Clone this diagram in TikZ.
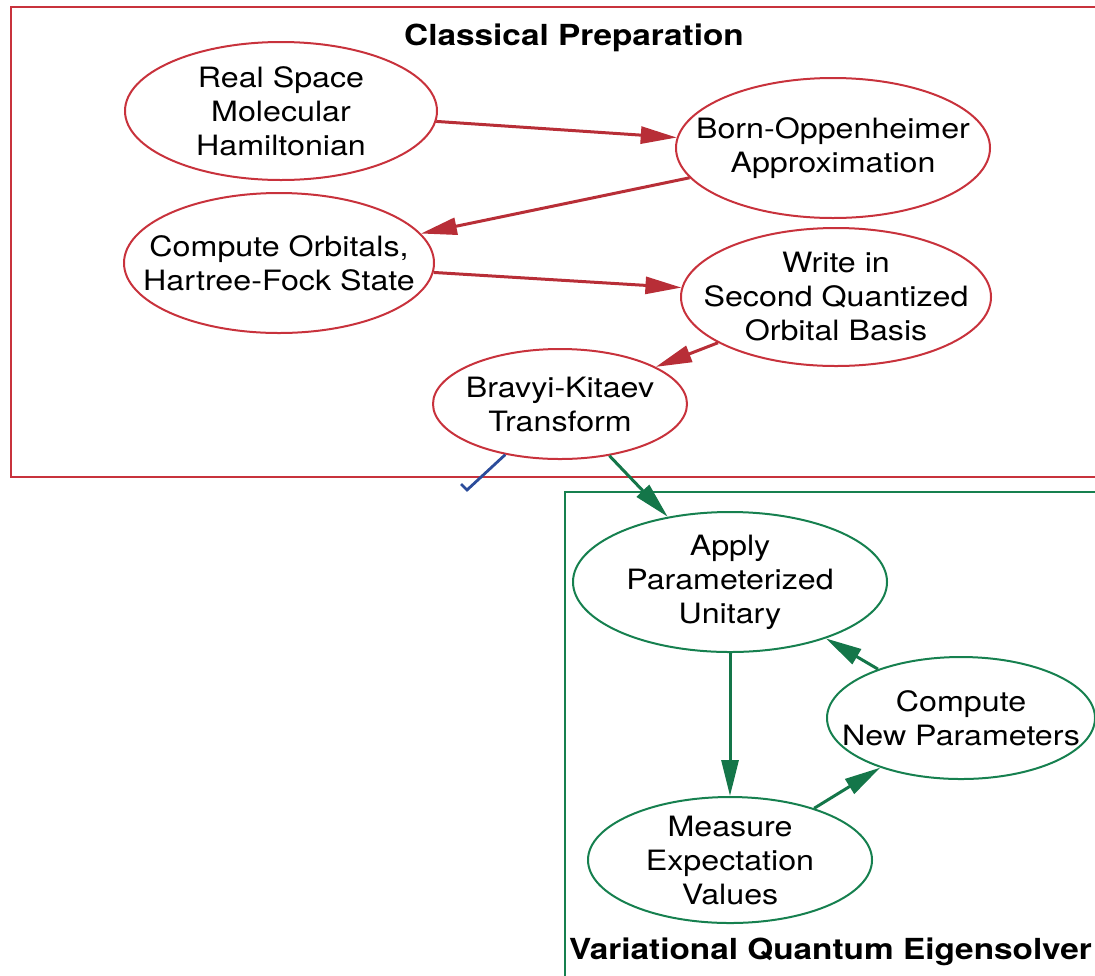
\documentclass[tikz,border=0pt]{standalone}
\usepackage{fontspec}
\setsansfont{TeX Gyre Heros}[FakeStretch=1.15]
\usetikzlibrary{shapes.geometric, arrows.meta}
\definecolor{prepred}{HTML}{C8323C}
\definecolor{vqegreen}{HTML}{16804F}
\definecolor{cutblue}{HTML}{2B4C9B}

\begin{document}
\begin{tikzpicture}[x=0.5pt, y=-0.5pt, font=\sffamily\fontsize{14}{17}\selectfont,
    redstep/.style={ellipse, draw=prepred, line width=1pt, align=center, inner sep=-60pt},
    greenstep/.style={ellipse, draw=vqegreen, line width=1pt, align=center, inner sep=-60pt},
    redarrow/.style={draw=prepred!92!black, line width=1.5pt, -{Triangle[length=18pt, width=8.5pt]}},
    greenarrow/.style={draw=vqegreen!92!black, line width=1.5pt, -{Triangle[length=18pt, width=8.5pt]}},
    boxtitle/.style={font=\sffamily\bfseries\fontsize{14.5}{17}\selectfont}]
    % pixel grid of the reference, y pointing down

    \path[use as bounding box] (0,0) rectangle (1095,975);
    \clip (0,0) rectangle (1095,975);

    % --- the two frames (cut off at the right and bottom) ---
    \draw[prepred, line width=1pt] (11,7) rectangle (1120,477);
    \draw[vqegreen, line width=1pt] (565,492) rectangle (1120,1000);
    \node[boxtitle] (preptitle) at (574,38) {Classical Preparation};
    \node[boxtitle, anchor=west] (vqetitle) at (562,952) {Variational Quantum Eigensolver};

    % --- classical preparation ---
    \node[redstep, minimum width=156pt, minimum height=69pt] (realh) at (281,111) {Real Space\\Molecular\\Hamiltonian};
    \node[redstep, minimum width=157pt, minimum height=70pt] (bornopp) at (833,148) {Born-Oppenheimer\\Approximation};
    \node[redstep, minimum width=155pt, minimum height=70pt] (orbitals) at (279,263) {Compute Orbitals,\\Hartree-Fock State};
    \node[redstep, minimum width=155pt, minimum height=69pt] (secquant) at (836,297) {Write in\\Second Quantized\\Orbital Basis};
    \node[redstep, minimum width=127pt, minimum height=55pt] (bravyi) at (560,404) {Bravyi-Kitaev\\Transform};

    % --- variational quantum eigensolver ---
    \node[greenstep, minimum width=157pt, minimum height=70pt] (unitary) at (730,582) {Apply\\Parameterized\\Unitary};
    \node[greenstep, minimum width=134pt, minimum height=61pt] (newparams) at (961,718) {Compute\\New Parameters};
    \node[greenstep, minimum width=142pt, minimum height=63pt] (measure) at (730,860) {Measure\\Expectation\\Values};

    \coordinate (cutend) at (467,490);
    \coordinate (cuttick) at (461,484);

    \draw[redarrow] (realh) -- (bornopp);
    \draw[redarrow] (bornopp) -- (orbitals);
    \draw[redarrow] (orbitals) -- (secquant);
    \draw[redarrow] (secquant) -- (bravyi);
    \draw[greenarrow] (bravyi) -- (unitary);
    \draw[cutblue, line width=1.4pt] (bravyi) -- (cutend) -- (cuttick);
    \draw[greenarrow] (unitary) -- (measure);
    \draw[greenarrow] (measure) -- (newparams);
    \draw[greenarrow] (newparams) -- (unitary);

\end{tikzpicture}
\end{document}
